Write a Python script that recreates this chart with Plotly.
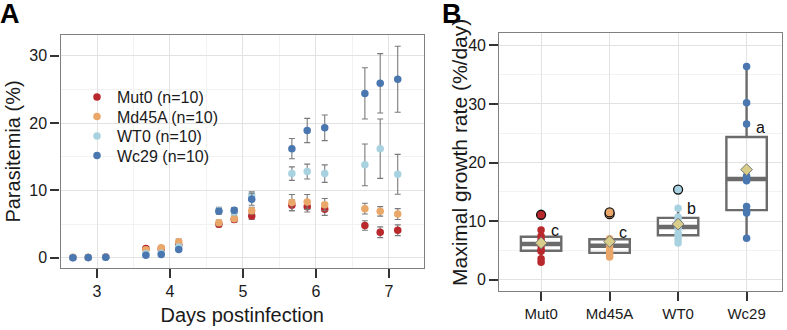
import numpy as np
import plotly.graph_objects as go

# ---------------- Panel A data: parasitemia (%) over time ----------------
days = [2.67, 2.88, 3.12, 3.67, 3.88, 4.12, 4.67, 4.88, 5.12, 5.67, 5.88, 6.12, 6.67, 6.88, 7.12]

mut0_mean = [0.05, 0.07, 0.12, 1.4, 1.3, 1.9, 5.0, 5.7, 6.2, 7.8, 7.6, 7.2, 4.8, 3.8, 4.1]
mut0_se = [0.02, 0.03, 0.05, 0.3, 0.3, 0.4, 0.4, 0.4, 0.5, 0.8, 0.8, 0.9, 0.7, 0.8, 0.8]

md45a_mean = [0.08, 0.08, 0.12, 1.2, 1.5, 2.4, 5.2, 5.8, 7.0, 8.2, 8.3, 7.9, 7.3, 6.9, 6.5]
md45a_se = [0.03, 0.03, 0.04, 0.3, 0.3, 0.4, 0.4, 0.4, 0.5, 1.2, 1.1, 0.9, 0.8, 0.7, 0.8]

wt0_mean = [0.05, 0.06, 0.10, 0.6, 0.7, 1.6, 7.0, 6.8, 9.2, 12.5, 12.8, 12.5, 13.8, 16.2, 12.4]
wt0_se = [0.02, 0.02, 0.04, 0.2, 0.2, 0.3, 0.5, 0.4, 0.6, 1.0, 1.1, 1.3, 3.1, 4.4, 2.95]

wc29_mean = [0.03, 0.05, 0.10, 0.4, 0.5, 1.25, 6.9, 7.05, 8.7, 16.2, 18.9, 19.3, 24.4, 25.9, 26.5]
wc29_se = [0.01, 0.02, 0.03, 0.1, 0.1, 0.2, 0.4, 0.4, 0.9, 1.5, 1.8, 1.9, 3.8, 4.4, 4.9]

strains = ["Mut0", "Md45A", "WT0", "Wc29"]
n_mice = [10, 10, 10, 10]

# ---------------- Panel B data: maximal growth rate (%/day) ----------------
mut0_rate = [3.0, 3.6, 4.9, 5.2, 5.9, 6.3, 6.9, 7.5, 8.5, 11.1]
md45a_rate = [3.9, 4.1, 4.5, 4.9, 5.5, 6.1, 6.7, 7.0, 11.2, 11.5]
wt0_rate = [6.3, 6.9, 7.5, 7.9, 8.7, 9.3, 10.2, 10.7, 12.2, 15.4]
wc29_rate = [7.1, 11.4, 11.7, 12.5, 16.9, 17.5, 17.7, 26.6, 30.2, 36.4]

sig_letters = ["c", "c", "b", "a"]
sig_letter_y = [8.4, 8.1, 12.1, 26.0]

colors = ["#B8282D", "#EAA76A", "#A9D2E1", "#4A77B0"]
box_grey = "#6b6b6b"
font_family = "Liberation Sans, Arial, sans-serif"

W, H = 787, 330
def px_x(a, b):
    return [a / W, b / W]
def px_y(top, bottom):
    return [(H - bottom) / H, (H - top) / H]

fig = go.Figure()

means = [mut0_mean, md45a_mean, wt0_mean, wc29_mean]
ses = [mut0_se, md45a_se, wt0_se, wc29_se]
legend_ids = ["legend", "legend2", "legend3", "legend4"]
for name, n, m, s, c, lg in zip(strains, n_mice, means, ses, colors, legend_ids):
    fig.add_trace(go.Scatter(
        x=days, y=m, mode="markers", name=f"{name} (n={n})", legend=lg,
        marker=dict(size=7.5, color=c),
        error_y=dict(type="data", array=s, visible=True, color="#7a7a7a",
                     thickness=1.1, width=3),
        xaxis="x", yaxis="y"))

rates = [mut0_rate, md45a_rate, wt0_rate, wc29_rate]
box_w = 0.59
for i, (vals, c) in enumerate(zip(rates, colors)):
    v = np.array(vals, dtype=float)
    q1, med, q3 = np.percentile(v, [25, 50, 75])
    iqr = q3 - q1
    lo_lim, hi_lim = q1 - 1.5 * iqr, q3 + 1.5 * iqr
    inside = v[(v >= lo_lim) & (v <= hi_lim)]
    outl = v[(v < lo_lim) | (v > hi_lim)]
    fig.add_trace(go.Box(
        x=[i], q1=[q1], median=[med], q3=[q3],
        lowerfence=[inside.min()], upperfence=[inside.max()],
        width=box_w, whiskerwidth=0, boxpoints=False,
        line=dict(color=box_grey, width=2.4), fillcolor="rgba(0,0,0,0)",
        showlegend=False, hoverinfo="skip", xaxis="x2", yaxis="y2"))
    fig.add_trace(go.Scatter(
        x=[i - box_w / 2, i + box_w / 2], y=[med, med], mode="lines",
        line=dict(color=box_grey, width=4.5), showlegend=False,
        hoverinfo="skip", xaxis="x2", yaxis="y2"))
    fig.add_trace(go.Scatter(
        x=[i] * len(v), y=v, mode="markers",
        marker=dict(size=7.5, color=c), showlegend=False,
        xaxis="x2", yaxis="y2"))
    if len(outl):
        fig.add_trace(go.Scatter(
            x=[i] * len(outl), y=outl, mode="markers",
            marker=dict(size=9, color=c, line=dict(color="#111111", width=1.3)),
            showlegend=False, xaxis="x2", yaxis="y2"))
    fig.add_trace(go.Scatter(
        x=[i], y=[v.mean()], mode="markers",
        marker=dict(size=9, symbol="diamond", color="#D9CD8A",
                    line=dict(color="#777777", width=1)),
        showlegend=False, xaxis="x2", yaxis="y2"))

annotations = []
for i, (lab, ly) in enumerate(zip(sig_letters, sig_letter_y)):
    annotations.append(dict(x=i + 0.2, y=ly, xref="x2", yref="y2", text=lab,
                            showarrow=False, font=dict(size=16, color="#111111")))
annotations.append(dict(x=10 / W, y=1 - 14 / H, xref="paper", yref="paper", text="<b>A</b>",
                        showarrow=False, font=dict(size=27, color="#000000"),
                        xanchor="center", yanchor="middle"))
annotations.append(dict(x=452 / W, y=1 - 14 / H, xref="paper", yref="paper", text="<b>B</b>",
                        showarrow=False, font=dict(size=27, color="#000000"),
                        xanchor="center", yanchor="middle"))
# y-axis title of panel B
annotations.append(dict(x=459 / W, y=1 - 153 / H, xref="paper", yref="paper",
                        text="Maximal growth rate (%/day)", textangle=-90,
                        showarrow=False, font=dict(size=21, color="#1a1a1a"),
                        xanchor="center", yanchor="middle"))

axis_common = dict(
    showline=True, mirror=True, linecolor="#808080", linewidth=1.3,
    ticks="outside", ticklen=9, tickwidth=2, tickcolor="#333333",
    gridcolor="#e2e2e2", gridwidth=1, zeroline=False, automargin=False,
    tickfont=dict(size=16, color="#1a1a1a"),
)

legend_common = dict(xanchor="left", yanchor="middle", bgcolor="rgba(0,0,0,0)",
                     font=dict(size=16, color="#1a1a1a"))
legend_layout = {}
for k, lg in enumerate(legend_ids):
    legend_layout[lg] = dict(x=77 / W, y=1 - (97 + 19.5 * k) / H, **legend_common)

fig.update_layout(
    width=W, height=H, margin=dict(l=0, r=0, t=0, b=0),
    paper_bgcolor="white", plot_bgcolor="white",
    font=dict(family=font_family, color="#1a1a1a"),
    showlegend=True,
    xaxis=dict(domain=px_x(60.5, 424), range=[2.5, 7.48], tick0=3, dtick=1,
               title=dict(text="Days postinfection", font=dict(size=20), standoff=8),
               minor=dict(dtick=0.5, tick0=2.5, showgrid=True, gridcolor="#f2f2f2", ticklen=0),
               anchor="y", **axis_common),
    yaxis=dict(domain=px_y(35, 268), range=[-1.5, 33.06], tick0=0, dtick=10,
               title=dict(text="Parasitemia (%)", font=dict(size=20), standoff=3),
               minor=dict(dtick=5, showgrid=True, gridcolor="#f2f2f2", ticklen=0),
               anchor="x", **axis_common),
    xaxis2=dict(domain=px_x(499.3, 782), range=[-0.61, 3.517],
                tickvals=[0, 1, 2, 3], ticktext=strains, anchor="y2",
                **{**axis_common, "tickfont": dict(size=15, color="#1a1a1a")}),
    yaxis2=dict(domain=px_y(33.3, 291), range=[-1.9, 42.05], tick0=0, dtick=10,
                minor=dict(dtick=5, showgrid=True, gridcolor="#f2f2f2", ticklen=0),
                anchor="x2", **axis_common),
    annotations=annotations,
    **legend_layout,
)

fig.write_html("out.html", config={"displayModeBar": False},
               post_script="document.body.style.margin='0';document.body.style.padding='0';")
